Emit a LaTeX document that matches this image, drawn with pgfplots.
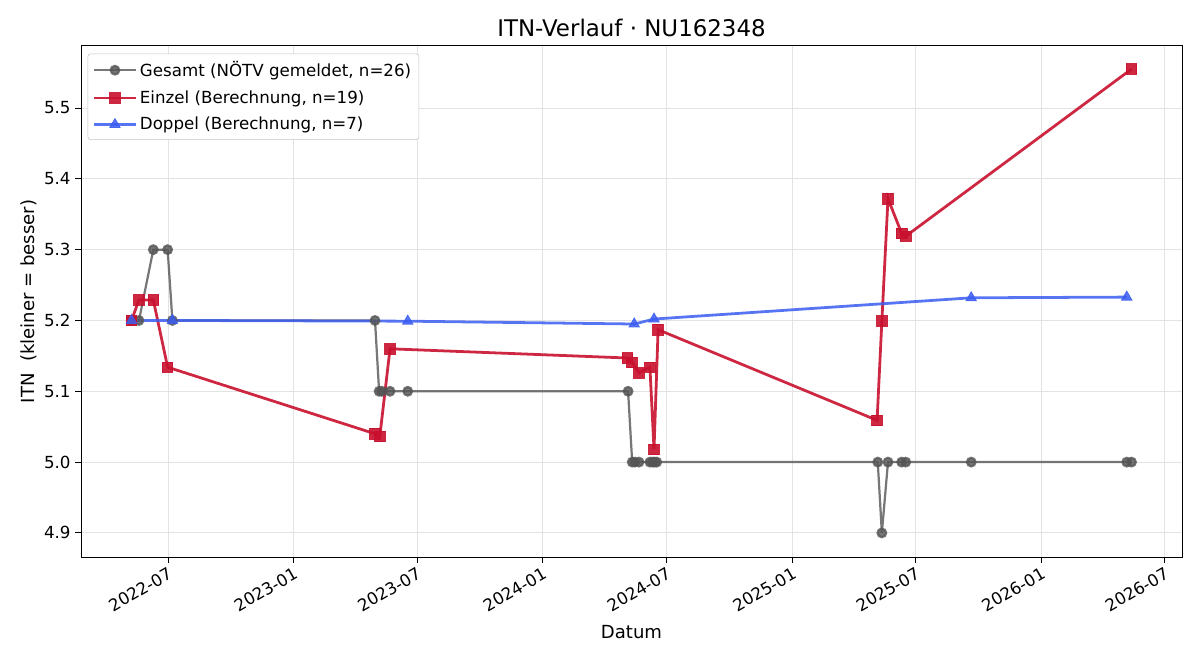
\documentclass[border=0pt]{standalone}
\usepackage{pgfplots}
\pgfplotsset{compat=1.18}
\usepgfplotslibrary{dateplot}
\usepackage{fontspec}
\setmainfont{DejaVu Sans}

\definecolor{gesamt}{HTML}{555555}
\definecolor{einzel}{HTML}{C8102E}
\definecolor{doppel}{HTML}{3A5CF0}
\definecolor{gridc}{HTML}{E3E3E3}

\pgfplotstableread{
date y
2022-05-08 5.2
2022-05-19 5.2
2022-06-09 5.3
2022-06-30 5.3
2022-07-07 5.2
2023-04-30 5.2
2023-05-06 5.1
2023-05-10 5.1
2023-05-22 5.1
2023-06-17 5.1
2024-05-05 5.1
2024-05-11 5.0
2024-05-15 5.0
2024-05-21 5.0
2024-06-06 5.0
2024-06-10 5.0
2024-06-13 5.0
2024-06-16 5.0
2025-05-06 5.0
2025-05-12 4.9
2025-05-21 5.0
2025-06-10 5.0
2025-06-16 5.0
2025-09-20 5.0
2026-05-06 5.0
2026-05-13 5.0
}\gesamt

\pgfplotstableread{
date y
2022-05-08 5.200
2022-05-19 5.229
2022-06-09 5.229
2022-06-30 5.134
2023-04-30 5.040
2023-05-07 5.036
2023-05-22 5.160
2024-05-04 5.147
2024-05-11 5.141
2024-05-21 5.126
2024-06-06 5.134
2024-06-12 5.018
2024-06-18 5.187
2025-05-05 5.059
2025-05-12 5.199
2025-05-21 5.372
2025-06-10 5.323
2025-06-16 5.319
2026-05-13 5.555
}\einzel

\pgfplotstableread{
date y
2022-05-08 5.200
2022-07-07 5.200
2023-06-17 5.199
2024-05-14 5.195
2024-06-12 5.202
2025-09-20 5.232
2026-05-06 5.233
}\doppel

\begin{document}
\begin{tikzpicture}
\useasboundingbox (-58.32pt,-74.16pt) rectangle (805.68pt,401.04pt);
\begin{axis}[
  at={(0,0)}, anchor=south west,
  scale only axis,
  width=792.72pt, height=367.92pt,
  date coordinates in=x,
  xmin=2022-02-23, xmax=2026-07-26,
  ymin=4.866, ymax=5.5876,
  xtick={2022-07-01,2023-01-01,2023-07-01,2024-01-01,2024-07-01,2025-01-01,2025-07-01,2026-01-01,2026-07-01},
  xticklabels={2022-07,2023-01,2023-07,2024-01,2024-07,2025-01,2025-07,2026-01,2026-07},
  xticklabel style={rotate=30, anchor=north east, font=\fontsize{12}{14}\selectfont, inner sep=2pt},
  ytick={4.9,5.0,5.1,5.2,5.3,5.4,5.5},
  yticklabel style={/pgf/number format/fixed, /pgf/number format/fixed zerofill,
    /pgf/number format/precision=1, /pgf/number format/assume math mode=true,
    font=\fontsize{12}{14}\selectfont},
  xtick pos=lower, ytick pos=left,
  tick align=outside,
  tick style={black, line width=0.7pt},
  major tick length=4pt,
  axis line style={black, line width=0.7pt},
  grid=major,
  major grid style={gridc, line width=0.7pt},
  xlabel={Datum},
  ylabel={ITN\ \ (kleiner = besser)},
  label style={font=\fontsize{13}{15}\selectfont},
  xlabel style={yshift=-3pt},
  ylabel style={yshift=-2pt},
  title={ITN-Verlauf · NU162348},
  title style={font=\fontsize{16.5}{19}\selectfont, yshift=-3pt},
  legend style={font=\fontsize{12}{14}\selectfont, draw=gridc!70!gray, rounded corners=2pt,
    at={(0.006,0.985)}, anchor=north west, inner sep=3.5pt, row sep=4.5pt,
    cells={anchor=west}},
  legend cell align=left,
  legend image code/.code={\draw[mark repeat=2,mark phase=2,#1]
    plot coordinates {(0pt,0pt) (15pt,0pt) (30pt,0pt)};},
]
\addplot[gesamt, draw opacity=0.8, line width=1.6pt, mark=*, mark size=3.1pt,
  mark options={draw=gesamt, fill=gesamt, opacity=0.8}] table[x=date,y=y]{\gesamt};
\addlegendentry{Gesamt (NÖTV gemeldet, n=26)}
\addplot[einzel, draw opacity=0.9, line width=2.0pt, mark=square*, mark size=3.8pt,
  mark options={draw=einzel, fill=einzel, opacity=0.9, line width=0.6pt}] table[x=date,y=y]{\einzel};
\addlegendentry{Einzel (Berechnung, n=19)}
\addplot[doppel, draw opacity=0.85, line width=2.0pt, mark=triangle*, mark size=4.3pt,
  mark options={draw=doppel, fill=doppel, opacity=0.85, line width=0.6pt}] table[x=date,y=y]{\doppel};
\addlegendentry{Doppel (Berechnung, n=7)}
\end{axis}
\end{tikzpicture}
\end{document}
